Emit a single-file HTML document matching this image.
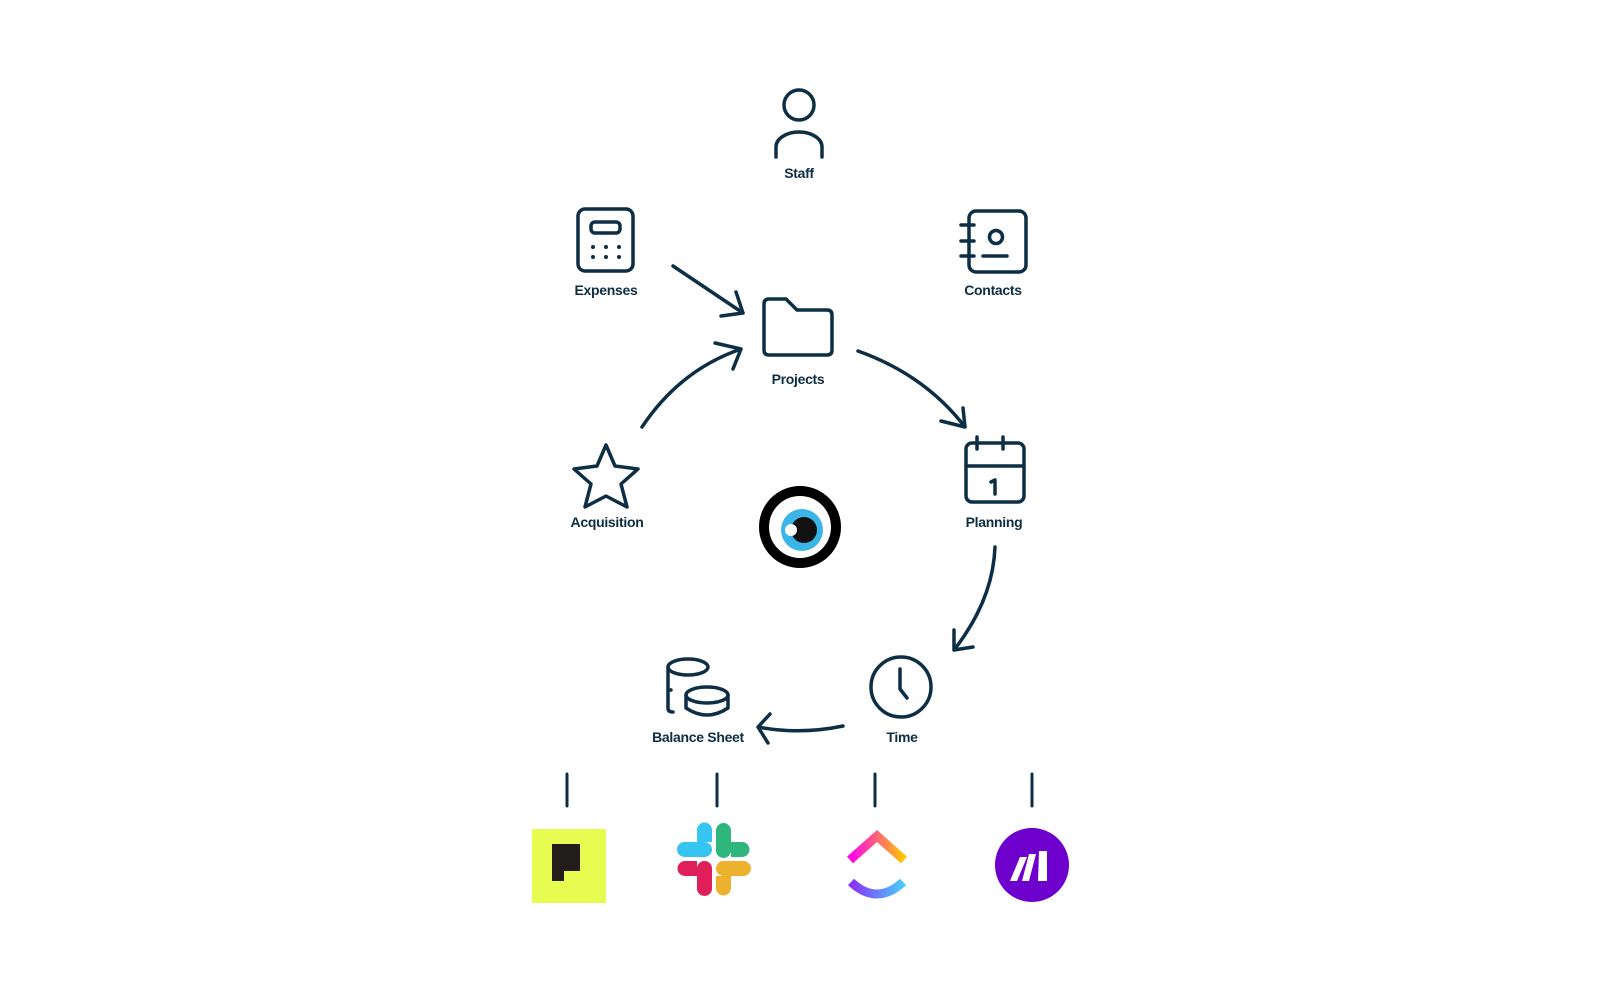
<!DOCTYPE html>
<html><head><meta charset="utf-8"><style>
html,body{margin:0;padding:0;background:#fff;width:1600px;height:1000px;overflow:hidden}
text{font-family:"Liberation Sans",sans-serif;font-size:14px;fill:#0d2e44;text-anchor:middle;font-weight:bold;letter-spacing:-0.3px}
</style></head><body>
<svg width="1600" height="1000" viewBox="0 0 1600 1000" xmlns="http://www.w3.org/2000/svg">
<g fill="none" stroke="#0d2e44" stroke-width="3.5" stroke-linecap="round" stroke-linejoin="round">
<circle cx="799" cy="105" r="15"/>
<path d="M776 157 V147 A23 15 0 0 1 822 147 V157"/>
<rect x="578" y="209" width="55" height="62" rx="7"/>
<rect x="591" y="222" width="29" height="11" rx="4"/>
<rect x="969" y="211" width="57" height="61" rx="7"/>
<path d="M961 225 H974 M961 241 H974 M961 256 H974"/>
<circle cx="996" cy="237" r="6.5"/>
<path d="M983 256 H1007"/>
<path d="M764 304 Q764 299 769 299 H786 L797 310 H827 Q832 310 832 315 V350 Q832 355 827 355 H769 Q764 355 764 350 Z"/>
<path d="M606 445 L615 466 L638 469 L621 484 L627 507 L606 496 L585 507 L591 484 L574 469 L597 466 Z"/>
<rect x="966" y="443" width="58" height="59" rx="6"/>
<path d="M966 466 H1024 M977 437 V449 M1003 437 V449"/>
<path d="M991 482 L995 480 V494"/>
<circle cx="901" cy="687" r="30"/>
<path d="M900 669 V689 L907 698"/>
<ellipse cx="688" cy="667" rx="20" ry="8"/>
<path d="M668 667 V708 Q668 712 673 712 M668 690 H671"/>
<ellipse cx="707" cy="695" rx="21" ry="8"/>
<path d="M686 695 V708 Q707 722 728 708 V695"/>
<path d="M673 266 L743 313 M736 292 L743 313 L721 316"/>
<path d="M642 427 Q680 370 741 349 M715 343 L741 349 L733 369"/>
<path d="M858 351 Q925 375 965 427 M941 421 L965 427 L963 408"/>
<path d="M995 547 Q993 600 954 650 M954 630 L954 650 L973 647"/>
<path d="M843 726 Q800 735 758 727 M770 714 L758 727 L768 743"/>
<path d="M567 774 V806 M717 774 V806 M875 774 V806 M1032 774 V806" stroke-width="3"/>
</g>
<g fill="#0d2e44">
<circle cx="593" cy="247" r="2"/><circle cx="606" cy="247" r="2"/><circle cx="619" cy="247" r="2"/>
<circle cx="593" cy="257" r="2"/><circle cx="606" cy="257" r="2"/><circle cx="619" cy="257" r="2"/>
</g>
<text x="799" y="178">Staff</text>
<text x="606" y="295">Expenses</text>
<text x="993" y="295">Contacts</text>
<text x="798" y="384">Projects</text>
<text x="607" y="527">Acquisition</text>
<text x="994" y="527">Planning</text>
<text x="902" y="742">Time</text>
<text x="698" y="742">Balance Sheet</text>
<circle cx="800" cy="527" r="36" fill="#fff" stroke="#000" stroke-width="10"/>
<circle cx="802" cy="530" r="21" fill="#3bb4e8"/>
<circle cx="804" cy="530" r="13" fill="#111"/>
<circle cx="791" cy="530" r="6" fill="#fff"/>
<rect x="532" y="829" width="74" height="74" fill="#e6fc50"/>
<path d="M552 844 H580 V871 H564 V881 H552 Z" fill="#211d1b"/>
<g transform="translate(0,-3)">
<rect x="677" y="845" width="35" height="15" rx="7.5" fill="#36c5f0"/>
<path d="M697 845 V833 A7.5 7.5 0 0 1 712 833 V845 Z" fill="#36c5f0"/>
<rect x="716" y="826" width="15" height="35" rx="7.5" fill="#2eb67d"/>
<path d="M731 845 H742 A7.5 7.5 0 0 1 742 860 H731 Z" fill="#2eb67d"/>
<rect x="697" y="864" width="15" height="35" rx="7.5" fill="#e01e5a"/>
<path d="M697 864 H685 A7.5 7.5 0 0 0 685 879 H697 Z" fill="#e01e5a"/>
<rect x="716" y="864" width="35" height="15" rx="7.5" fill="#ecb22e"/>
<path d="M716 879 V891 A7.5 7.5 0 0 0 731 891 V879 Z" fill="#ecb22e"/>
</g>
<defs>
<linearGradient id="g1" x1="0" y1="0" x2="1" y2="0"><stop offset="0" stop-color="#ff02f0"/><stop offset="1" stop-color="#ffc800"/></linearGradient>
<linearGradient id="g2" x1="0" y1="0" x2="1" y2="0"><stop offset="0" stop-color="#8930fd"/><stop offset="1" stop-color="#49ccf9"/></linearGradient>
</defs>
<path d="M850 860 L877 836 L904 860" fill="none" stroke="url(#g1)" stroke-width="9" stroke-linejoin="miter"/>
<path d="M851 882 Q877 906 903 882" fill="none" stroke="url(#g2)" stroke-width="9"/>
<circle cx="1032" cy="865" r="37" fill="#6d00cc"/>
<path d="M1010 881 L1020 857 L1027 857 L1017 881 Z M1022 881 L1029 854 L1036 854 L1029 881 Z M1038 881 L1039 851 L1047 851 L1047 881 Z" fill="#fff"/>
</svg>
</body></html>
